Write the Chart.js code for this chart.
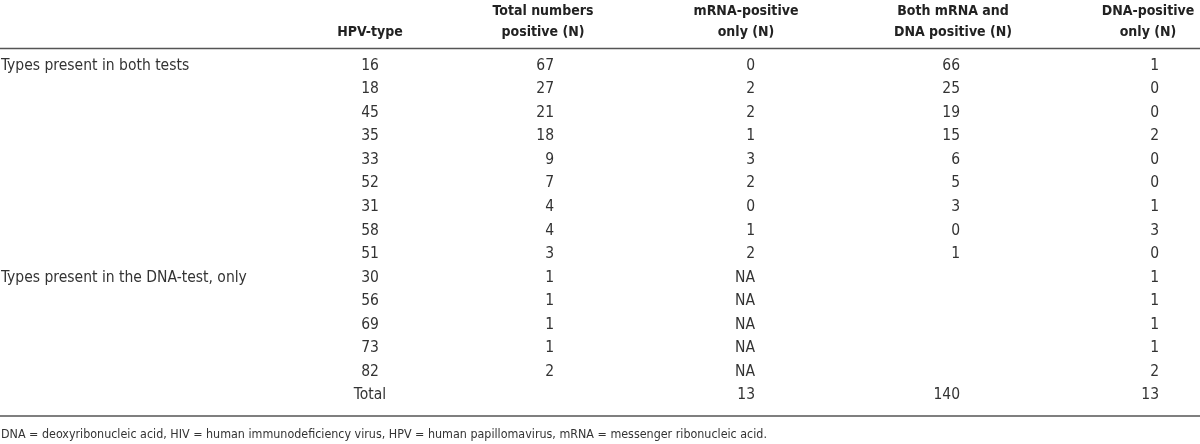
<!DOCTYPE html>
<html>
<head>
<meta charset="utf-8">
<script src="https://cdn.jsdelivr.net/npm/chart.js@4/dist/chart.umd.min.js"></script>
<style>
  html, body { margin: 0; padding: 0; background: #fff; }
  #wrap { width: 1200px; height: 444px; position: relative; }
</style>
</head>
<body>
<div id="wrap"><canvas id="chart"></canvas></div>
<script>
// table data
const hpvTypes = ['16', '18', '45', '35', '33', '52', '31', '58', '51', '30', '56', '69', '73', '82', 'Total'];
const groupNames = ['Types present in both tests', 'Types present in the DNA-test, only'];
const groupStartRow = [0, 9];
const totalPositive = [67, 27, 21, 18, 9, 7, 4, 4, 3, 1, 1, 1, 1, 2, null];
const mrnaOnly = [0, 2, 2, 1, 3, 2, 0, 1, 2, 'NA', 'NA', 'NA', 'NA', 'NA', 13];
const bothPositive = [66, 25, 19, 15, 6, 5, 3, 0, 1, null, null, null, null, null, 140];
const dnaOnly = [1, 0, 0, 2, 0, 0, 1, 3, 0, 1, 1, 1, 1, 2, 13];
const columnHeaders = [
    ['HPV-type'],
    ['Total numbers', 'positive (N)'],
    ['mRNA-positive', 'only (N)'],
    ['Both mRNA and', 'DNA positive (N)'],
    ['DNA-positive', 'only (N)']
];
const footnote = 'DNA = deoxyribonucleic acid, HIV = human immunodeficiency virus, HPV = human papillomavirus, mRNA = messenger ribonucleic acid.';

// layout of the columns (x scale units)
const headerX = [370, 543, 746, 953, 1148];
const valueX = [370, 554, 755, 960, 1159];
const valueAlign = ['center', 'right', 'right', 'right', 'right'];

const FONT = '"Liberation Sans Narrow", "DejaVu Sans Condensed", "Liberation Sans", sans-serif';

const tablePlugin = {
    id: 'tableDraw',
    afterDraw(chart) {
        const ctx = chart.ctx;
        const x = chart.scales.x;
        const y = chart.scales.y;
        const area = chart.chartArea;
        const columns = [hpvTypes, totalPositive, mrnaOnly, bothPositive, dnaOnly];

        ctx.save();
        ctx.textBaseline = 'middle';

        // header
        ctx.fillStyle = '#222';
        ctx.font = 'bold 14px ' + FONT;
        ctx.textAlign = 'center';
        columnHeaders.forEach((lines, c) => {
            const hx = x.getPixelForValue(headerX[c]);
            lines.forEach((t, i) => {
                const row = lines.length === 1 ? 1 : i;
                ctx.fillText(t, hx, area.top - 43 + row * 21);
            });
        });

        // rules
        ctx.strokeStyle = '#555';
        ctx.lineWidth = 1.5;
        [area.top - 5.5, area.bottom + 9].forEach(ly => {
            ctx.beginPath();
            ctx.moveTo(area.left, ly);
            ctx.lineTo(area.right, ly);
            ctx.stroke();
        });

        // body
        ctx.fillStyle = '#333';
        ctx.font = '15.5px ' + FONT;
        groupNames.forEach((g, i) => {
            ctx.textAlign = 'left';
            ctx.fillText(g, x.getPixelForValue(1), y.getPixelForValue(groupStartRow[i]));
        });
        columns.forEach((col, c) => {
            ctx.textAlign = valueAlign[c];
            col.forEach((v, r) => {
                if (v === null) return;
                ctx.fillText(String(v), x.getPixelForValue(valueX[c]), y.getPixelForValue(r));
            });
        });

        // footnote
        ctx.font = '12.4px ' + FONT;
        ctx.textAlign = 'left';
        ctx.fillText(footnote, x.getPixelForValue(1), area.bottom + 28);
        ctx.restore();
    }
};

new Chart(document.getElementById('chart').getContext('2d'), {
    type: 'scatter',
    data: { datasets: [] },
    options: {
        responsive: true,
        maintainAspectRatio: false,
        animation: false,
        layout: { padding: { top: 54, bottom: 37, left: 0, right: 0 } },
        plugins: { legend: { display: false }, tooltip: { enabled: false } },
        scales: {
            x: { type: 'linear', min: 0, max: 1200, display: false },
            y: { type: 'category', labels: hpvTypes, offset: true, display: false }
        }
    },
    plugins: [tablePlugin]
});
</script>
</body>
</html>
